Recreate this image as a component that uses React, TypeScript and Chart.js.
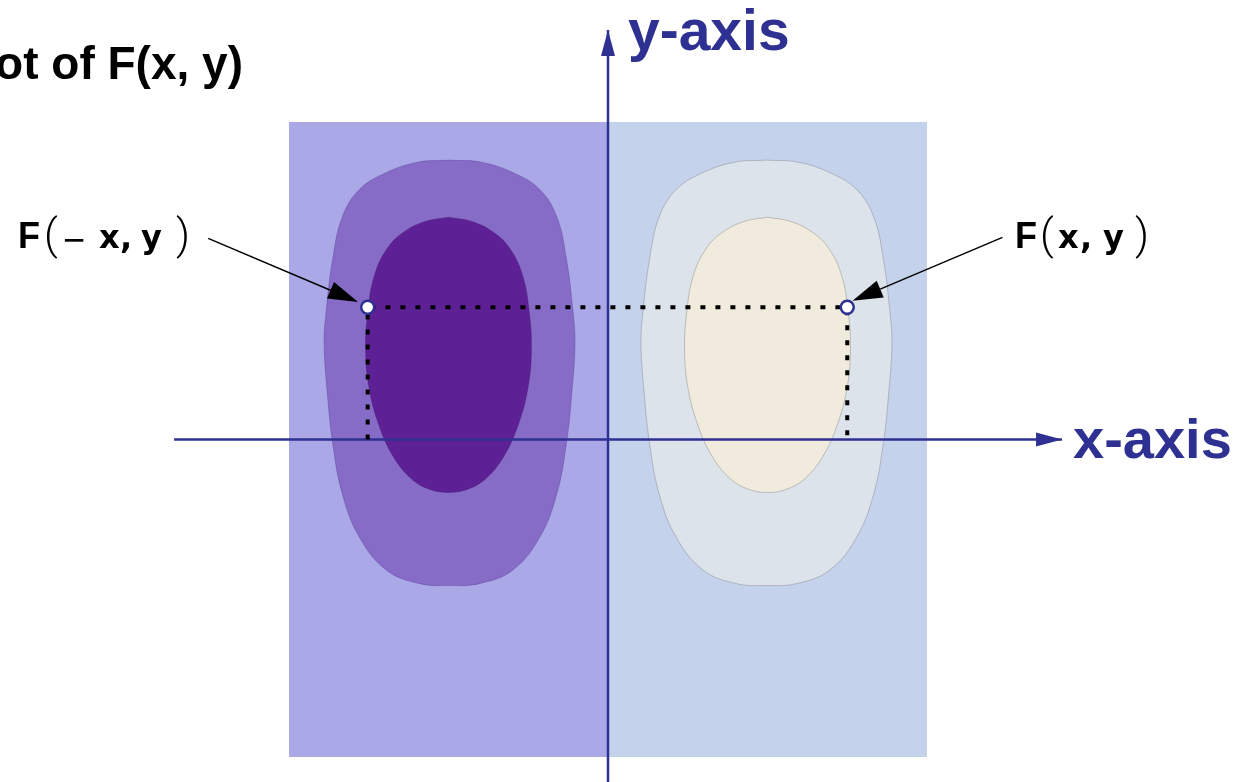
import { useEffect, useRef } from 'react';
import { Chart, registerables } from 'chart.js';

Chart.register(...registerables);

const AXIS_BLUE = '#2e3192';
const FONT = '"Liberation Sans", Arial, Helvetica, sans-serif';

// square field of the contour plot (data units)
const xRange = [-3, 3];
const yRange = [-3, 3];

// background halves of the field
const leftHalf = [[-3, -3], [0, -3], [0, 3], [-3, 3], [-3, -3]];
const rightHalf = [[0, -3], [3, -3], [3, 3], [0, 3], [0, -3]];

// contour levels, left lobe (negative values)
const outerLeft = [
  [-1.49, 2.64], [-1.19, 2.62], [-0.89, 2.52], [-0.64, 2.36], [-0.48, 2.1], [-0.39, 1.7],
  [-0.33, 1.22], [-0.31, 0.91], [-0.34, 0.44], [-0.39, -0.03], [-0.48, -0.51], [-0.64, -0.92],
  [-0.89, -1.23], [-1.2, -1.36], [-1.49, -1.38], [-1.78, -1.36], [-2.09, -1.23], [-2.34, -0.92],
  [-2.5, -0.51], [-2.59, -0.03], [-2.64, 0.44], [-2.67, 0.91], [-2.65, 1.22], [-2.59, 1.7],
  [-2.5, 2.1], [-2.34, 2.36], [-2.09, 2.52], [-1.79, 2.62], [-1.49, 2.64],
];
const innerLeft = [
  [-1.5, 2.1], [-1.28, 2.06], [-1.08, 1.96], [-0.92, 1.8], [-0.8, 1.54], [-0.74, 1.2],
  [-0.72, 0.85], [-0.75, 0.5], [-0.84, 0.15], [-0.98, -0.16], [-1.15, -0.37], [-1.32, -0.47],
  [-1.5, -0.5], [-1.68, -0.47], [-1.85, -0.37], [-2.02, -0.16], [-2.16, 0.15], [-2.25, 0.5],
  [-2.28, 0.85], [-2.26, 1.2], [-2.2, 1.54], [-2.08, 1.8], [-1.92, 1.96], [-1.72, 2.06], [-1.5, 2.1],
];

// contour levels, right lobe (positive values)
const outerRight = [
  [1.49, 2.64], [1.19, 2.62], [0.89, 2.52], [0.64, 2.36], [0.48, 2.1], [0.39, 1.7],
  [0.33, 1.22], [0.31, 0.91], [0.34, 0.44], [0.39, -0.03], [0.48, -0.51], [0.64, -0.92],
  [0.89, -1.23], [1.2, -1.36], [1.49, -1.38], [1.78, -1.36], [2.09, -1.23], [2.34, -0.92],
  [2.5, -0.51], [2.59, -0.03], [2.64, 0.44], [2.67, 0.91], [2.65, 1.22], [2.59, 1.7],
  [2.5, 2.1], [2.34, 2.36], [2.09, 2.52], [1.79, 2.62], [1.49, 2.64],
];
const innerRight = [
  [1.5, 2.1], [1.28, 2.06], [1.08, 1.96], [0.92, 1.8], [0.8, 1.54], [0.74, 1.2],
  [0.72, 0.85], [0.75, 0.5], [0.84, 0.15], [0.98, -0.16], [1.15, -0.37], [1.32, -0.47],
  [1.5, -0.5], [1.68, -0.47], [1.85, -0.37], [2.02, -0.16], [2.16, 0.15], [2.25, 0.5],
  [2.28, 0.85], [2.26, 1.2], [2.2, 1.54], [2.08, 1.8], [1.92, 1.96], [1.72, 2.06], [1.5, 2.1],
];

// coordinate axes (tail -> tip)
const xAxisLine = [[-4.08, 0], [4.27, 0]];
const yAxisLine = [[0, -3.4], [0, 3.87]];

// the two mirrored sample points and guide lines
const samplePoints = [[-2.26, 1.25], [2.25, 1.25]];
const guideLine = [[-2.26, 0], [-2.26, 1.25], [2.25, 1.25], [2.25, 0]];

// annotation arrows (tail -> tip)
const arrowLeft = [[-3.76, 1.9], [-2.35, 1.3]];
const arrowRight = [[3.71, 1.91], [2.3, 1.31]];

// texts
const titleText = 'Plot of F(x, y)';
const titleAnchor = [-3.433, 3.406];
const xAxisText = 'x-axis';
const xAxisTextAnchor = [4.373, -0.175];
const yAxisText = 'y-axis';
const yAxisTextAnchor = [0.188, 3.68];
const leftLabelAnchor = [-5.549, 1.81];
const rightLabelAnchor = [3.828, 1.81];
const leftLabelPieces = [
  ['F', 0, 'F'], ['(', 26, 'p'], ['\u2212', 45, 'm'], ['x', 81, 'b'], [',', 102, 'b'], ['y', 123, 'b'], [')', 158, 'p'],
];
const rightLabelPieces = [
  ['F', 0, 'F'], ['(', 25, 'p'], ['x', 43, 'b'], [',', 65, 'b'], ['y', 88, 'b'], [')', 120, 'p'],
];

const toXY = (pts: number[][]) => pts.map(([x, y]) => ({ x, y }));

function shape(pts: number[][], color: string, order: number, border: string, tension: number) {
  return {
    data: toXY(pts),
    showLine: true,
    fill: 'shape',
    backgroundColor: color,
    borderColor: border,
    borderWidth: 1,
    pointRadius: 0,
    tension,
    order,
    clip: false,
  };
}

function drawHead(ctx: CanvasRenderingContext2D, from: number[], tip: number[], len: number, half: number, color: string) {
  const dx = tip[0] - from[0];
  const dy = tip[1] - from[1];
  const d = Math.hypot(dx, dy);
  const ux = dx / d;
  const uy = dy / d;
  const bx = tip[0] - ux * len;
  const by = tip[1] - uy * len;
  ctx.beginPath();
  ctx.moveTo(tip[0], tip[1]);
  ctx.lineTo(bx - uy * half, by + ux * half);
  ctx.lineTo(bx + uy * half, by - ux * half);
  ctx.closePath();
  ctx.fillStyle = color;
  ctx.fill();
  return [bx, by];
}

const overlay = {
  id: 'overlay',
  afterDatasetsDraw(chart: any) {
    const { ctx } = chart;
    const sx = chart.scales.x;
    const sy = chart.scales.y;
    const P = (p: number[]) => [sx.getPixelForValue(p[0]), sy.getPixelForValue(p[1])];
    ctx.save();

    // axis arrowheads
    drawHead(ctx, P(xAxisLine[0]), P(xAxisLine[1]), 26, 7, AXIS_BLUE);
    drawHead(ctx, P(yAxisLine[0]), P(yAxisLine[1]), 26, 7, AXIS_BLUE);

    // annotation arrows
    for (const arr of [arrowLeft, arrowRight]) {
      const a = P(arr[0]);
      const b = P(arr[1]);
      const base = drawHead(ctx, a, b, 30, 9, '#000');
      ctx.beginPath();
      ctx.moveTo(a[0], a[1]);
      ctx.lineTo(base[0], base[1]);
      ctx.strokeStyle = '#000';
      ctx.lineWidth = 1.5;
      ctx.stroke();
    }

    ctx.textBaseline = 'alphabetic';
    // title
    ctx.fillStyle = '#000';
    ctx.font = `bold 46px ${FONT}`;
    ctx.textAlign = 'right';
    const t = P(titleAnchor);
    ctx.fillText(titleText, t[0], t[1]);

    // axis names
    ctx.textAlign = 'left';
    ctx.fillStyle = AXIS_BLUE;
    ctx.font = `bold 56px ${FONT}`;
    const xa = P(xAxisTextAnchor);
    ctx.fillText(xAxisText, xa[0], xa[1]);
    ctx.font = `bold 57px ${FONT}`;
    const ya = P(yAxisTextAnchor);
    ctx.fillText(yAxisText, ya[0], ya[1]);

    // F(...) labels
    ctx.fillStyle = '#000';
    const drawLabel = (anchor: number[], pieces: any[]) => {
      const o = P(anchor);
      for (const [txt, dx, kind] of pieces) {
        let dy = 0;
        if (kind === 'F') ctx.font = `bold 36px ${FONT}`;
        else if (kind === 'b') ctx.font = `bold 32px "DejaVu Sans", ${FONT}`;
        else if (kind === 'p') { ctx.font = `300 43px Roboto, ${FONT}`; dy = 1; }
        else { ctx.font = `normal 38px ${FONT}`; dy = 5; }
        ctx.fillText(txt, o[0] + dx, o[1] + dy);
      }
    };
    drawLabel(leftLabelAnchor, leftLabelPieces);
    drawLabel(rightLabelAnchor, rightLabelPieces);

    ctx.restore();
  },
};

export default function App() {
  const ref = useRef<HTMLCanvasElement | null>(null);

  useEffect(() => {
    if (!ref.current) return;
    const chart = new Chart(ref.current, {
      type: 'scatter',
      data: {
        datasets: [
          shape(leftHalf, '#aba8e8', 20, 'rgba(0,0,0,0)', 0),
          shape(rightHalf, '#c4d2ec', 20, 'rgba(0,0,0,0)', 0),
          shape(outerLeft, '#866cc6', 18, 'rgba(70,40,130,0.3)', 0.4),
          shape(innerLeft, '#5e2095', 17, 'rgba(60,20,100,0.3)', 0.4),
          shape(outerRight, '#dde3ea', 18, 'rgba(120,120,130,0.4)', 0.4),
          shape(innerRight, '#f0ebdc', 17, 'rgba(120,120,120,0.4)', 0.4),
          {
            data: toXY(xAxisLine), showLine: true, borderColor: AXIS_BLUE, borderWidth: 2.5,
            pointRadius: 0, fill: false, tension: 0, order: 10, clip: false,
          },
          {
            data: toXY(yAxisLine), showLine: true, borderColor: AXIS_BLUE, borderWidth: 2.5,
            pointRadius: 0, fill: false, tension: 0, order: 10, clip: false,
          },
          {
            data: toXY(guideLine), showLine: true, borderColor: '#000', borderWidth: 4,
            borderDash: [5, 10], borderCapStyle: 'butt', borderJoinStyle: 'miter', tension: 0,
            pointRadius: 0, fill: false, order: 5, clip: false,
          },
          {
            data: toXY(samplePoints), showLine: false, pointRadius: 6.5, pointBorderWidth: 2.5,
            pointBackgroundColor: '#ffffff', pointBorderColor: AXIS_BLUE, order: 1, clip: false,
          },
        ] as any,
      },
      options: {
        animation: false,
        responsive: false,
        events: [],
        layout: { padding: { left: 289, right: 312, top: 122, bottom: 25 } },
        scales: {
          x: { type: 'linear', min: xRange[0], max: xRange[1], display: false },
          y: { type: 'linear', min: yRange[0], max: yRange[1], display: false },
        },
        plugins: { legend: { display: false }, tooltip: { enabled: false } },
      },
      plugins: [overlay],
    });
    return () => chart.destroy();
  }, []);

  return (
    <div style={{ position: 'absolute', left: 0, top: 0, width: 1239, height: 782, background: '#fff' }}>
      <canvas ref={ref} width={1239} height={782} style={{ width: 1239, height: 782, display: 'block' }} />
    </div>
  );
}
